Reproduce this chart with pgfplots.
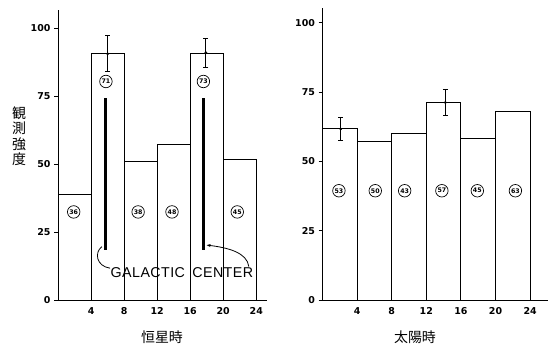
\documentclass[border=0pt]{standalone}
\usepackage{pgfplots}
\pgfplotsset{compat=1.18}
\usetikzlibrary{arrows.meta}
\usepackage{fontspec}
\newfontfamily\cjk{Noto Sans CJK JP}
\newfontfamily\tickfont{DejaVu Sans}
\newfontfamily\galfont{Liberation Sans}[LetterSpace=3]
\tikzset{circ/.style={circle, draw, line width=0.7pt, inner sep=0pt, minimum size=12.5bp,
    font=\tickfont\bfseries\fontsize{6.3}{7}\selectfont}}
\begin{document}
\begin{tikzpicture}
\useasboundingbox (0,0) rectangle (550bp,345bp);
\pgfplotsset{panel/.style={
  scale only axis, anchor=south west,
  axis x line=bottom, axis y line=left,
  axis line style={-, line width=0.9pt},
  xmin=0, ymin=0,
  ytick={0,25,50,75,100},
  xtick={4,8,12,16,20,24},
  tick align=outside, major tick length=4bp,
  tick style={black, line width=0.8pt},
  x tick style={draw=none},
  ticklabel style={font=\tickfont\bfseries\fontsize{9.5}{10}\selectfont},
  /pgf/number format/assume math mode=true,
  clip=false},
  ebar/.style={only marks, mark=*, mark size=1.2bp, black,
    error bars/.cd, y dir=both, y explicit,
    error bar style={line width=0.8pt},
    error mark options={rotate=90, mark size=2.5bp, line width=0.8pt}}
}
% ---------- left panel ----------
\begin{axis}[panel, at={(58bp,45bp)}, width=209bp, height=290bp, xmax=25.3, ymax=106.7]
\addplot[ybar interval, draw=black, fill=white, line width=0.9pt] coordinates {
 (0,38.8) (4,90.6) (8,51.0) (12,57.4) (16,90.7) (20,51.7) (24,51.7)};
\addplot[ebar] coordinates {
 (6,90.6) += (0,6.8) -= (0,6.6)
 (17.9,91.0) += (0,5.3) -= (0,5.4)};
\addplot[black, line width=3bp] coordinates {(5.8,18.5) (5.8,74.4)};
\addplot[black, line width=3bp] coordinates {(17.6,18.4) (17.6,74.4)};
\node[circ] at (axis cs:1.9,32.4) {36};
\node[circ] at (axis cs:5.8,80.4) {71};
\node[circ] at (axis cs:9.7,32.4) {38};
\node[circ] at (axis cs:13.8,32.4) {48};
\node[circ] at (axis cs:17.6,80.4) {73};
\node[circ] at (axis cs:21.7,32.4) {45};
\node[anchor=base, inner sep=0pt, font=\galfont\fontsize{14.3}{15}\selectfont] at (axis cs:15.0,8.3) {GALACTIC\hspace{3bp} CENTER};
\draw[line width=0.8pt] (axis cs:5.3,19.6) .. controls (axis cs:4.4,17.5) and (axis cs:4.6,12.5) .. (axis cs:6.3,11.7);
\draw[line width=0.8pt, -{Stealth[length=4bp,width=3bp]}] (axis cs:23.1,12.3) .. controls (axis cs:22.9,17.5) and (axis cs:20.5,19.3) .. (axis cs:18.0,20.2);
\end{axis}
% ---------- right panel ----------
\begin{axis}[panel, at={(322.5bp,45bp)}, width=225.5bp, height=292bp, xmax=26.07, ymax=105.3]
\addplot[ybar interval, draw=black, fill=white, line width=0.9pt] coordinates {
 (0,61.7) (4,57.1) (8,60.1) (12,71.2) (16,58.3) (20,67.9) (24,67.9)};
\addplot[ebar] coordinates {
 (2.1,61.7) += (0,4.3) -= (0,4.0)
 (14.2,71.2) += (0,4.8) -= (0,4.8)};
\node[circ] at (axis cs:1.9,39.4) {53};
\node[circ] at (axis cs:6.1,39.4) {50};
\node[circ] at (axis cs:9.5,39.4) {43};
\node[circ] at (axis cs:13.8,39.4) {57};
\node[circ] at (axis cs:17.9,39.4) {45};
\node[circ] at (axis cs:22.3,39.4) {63};
\end{axis}
% ---------- labels ----------
\node[align=center, inner sep=0pt, font=\cjk\fontsize{14}{15.5}\selectfont] at (19bp,209bp) {観\\測\\強\\度};
\node[inner sep=0pt, font=\cjk\fontsize{14}{15}\selectfont] at (162bp,7.5bp) {恒星時};
\node[inner sep=0pt, font=\cjk\fontsize{14}{15}\selectfont] at (415bp,7.5bp) {太陽時};
\end{tikzpicture}
\end{document}
